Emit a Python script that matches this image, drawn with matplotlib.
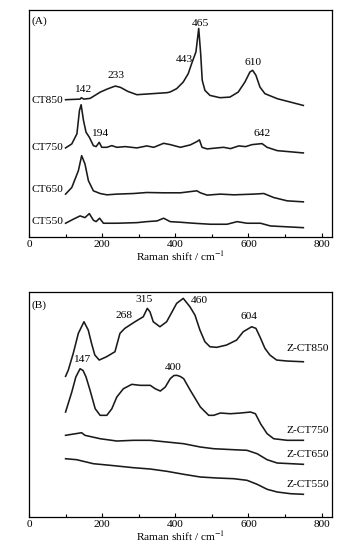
import matplotlib
matplotlib.use("Agg")
import matplotlib.pyplot as plt
from matplotlib.ticker import MultipleLocator

plt.rcParams["font.family"] = ["Liberation Serif", "DejaVu Serif"]
plt.rcParams["mathtext.fontset"] = "stix"

# panel A: Raman spectra (arbitrary, stacked intensity)
ct850_x = [100, 140, 143, 150, 167, 195, 215, 236, 250, 270, 295, 377, 385.3, 403.7, 421.7,
           435.4, 444.7, 456.4, 464, 469.3, 473.6, 481, 494.7, 522, 549.3, 572, 590.3, 604,
           611.4, 620.4, 631.4, 645, 679, 750]
ct850_y = [136.7, 137.3, 138.7, 137.3, 138, 144.3, 147.5, 150.3, 149, 145, 141.7, 143.7,
           144.3, 147.7, 154.3, 162.7, 172.7, 184.3, 207.7, 182.7, 156, 146, 141, 138.7,
           139.3, 144.3, 154.3, 164.3, 166, 161, 149.3, 142.7, 137.7, 131]

ct750_x = [100, 117, 131, 138, 142.5, 149, 156, 165, 176, 183.5, 192, 199, 213, 226.5, 240,
           263, 295, 322, 341, 368, 386, 414, 441, 459, 466, 473, 487, 514, 532, 551, 573.5,
           592, 610, 637, 651, 678.5, 750]
ct750_y = [88.7, 92.7, 102.7, 126, 131.7, 116, 104.3, 99.3, 91, 90, 94.3, 89.3, 89.3, 91,
           89.3, 90, 88.7, 90.7, 89.3, 93.3, 92, 89.3, 91.7, 95, 96.7, 89.3, 87.7, 88.7,
           89.3, 88, 90.7, 90, 92, 93, 89.3, 86, 83.7]

ct650_x = [100, 117, 135, 144, 153, 162.5, 176, 194.5, 213, 240, 285.8, 322, 368, 414, 459,
           468.5, 487, 523, 560, 614.6, 642, 669, 706, 750]
ct650_y = [42.7, 49.3, 66, 81, 72.7, 56, 46, 43.3, 42, 42.7, 43.3, 44.3, 44, 44, 46, 44,
           41.7, 42.7, 42, 42.7, 43.3, 39.3, 36, 35]

ct550_x = [100, 121, 139.7, 153, 165, 176, 183.5, 193, 203.6, 240, 295, 322, 350, 368, 386,
           413.7, 450, 496, 541.5, 569, 596, 633, 660, 750]
ct550_y = [13.7, 17.7, 21, 19.3, 23.3, 16.7, 15.3, 18.7, 13.7, 13.7, 14.3, 15.3, 16, 18.7,
           15.3, 14.7, 13.7, 12.7, 12.7, 15.3, 13.7, 13.7, 11, 9.3]

# panel B
zct850_x = [100, 107.5, 121, 134.9, 150.3, 162, 171, 180, 192, 212, 235, 248.7, 262, 289.7,
            312.4, 323.4, 330.7, 339.7, 358, 376.3, 403.7, 421.7, 440, 453.7, 467.3, 481,
            494.7, 513, 540, 567.6, 585.7, 608.6, 620.4, 631.3, 645, 658.6, 677, 706, 750]
zct850_y = [140.7, 147, 163.7, 183.7, 195.3, 187, 173.7, 162, 157, 160.3, 165.3, 183.7,
            188.7, 195.3, 200.3, 208.7, 205.3, 195.3, 190.3, 195.3, 213.7, 218.7, 210.3,
            202, 187, 175.3, 170.3, 169.7, 172, 177, 185.3, 190.3, 188.7, 180.3, 168.7, 162,
            157, 156, 155.3]

zct750_x = [100, 117, 128, 139.7, 148, 156, 167, 181, 194.5, 212.8, 226.5, 240, 258, 281,
            304, 331.5, 345, 359, 372.6, 386, 396, 404.5, 414, 423, 441, 468.5, 491.3, 505,
            523, 550.7, 578, 605.5, 619, 633, 651, 669, 706, 750]
zct750_y = [105, 125, 140, 148.3, 146.5, 140, 126.7, 108.3, 101.7, 101.7, 108.3, 120, 128.3,
            132.7, 131.7, 131.7, 128.3, 126, 130, 138.3, 141.5, 141.7, 140.5, 138.3, 126.7,
            110, 101.7, 101.7, 104, 103.3, 104, 105, 103.3, 93.3, 83.3, 78.3, 76.7, 76.7]

zct650_x = [100, 117, 144, 153, 194.5, 240, 285.8, 331.5, 377, 423, 468.5, 505, 560, 596,
            623.7, 651, 678.5, 750]
zct650_y = [81.7, 82.7, 84.3, 81.7, 78.3, 76, 76.7, 76.7, 75, 73.3, 70, 68.3, 67.3, 66.7,
            63.3, 57.3, 54, 52.7]

zct550_x = [100, 130.6, 176, 222, 285.8, 331.5, 377, 423, 468.5, 514, 560, 596, 623.7, 651,
            678.5, 715, 750]
zct550_y = [58.3, 57.3, 53.3, 51.7, 49.3, 48, 45.7, 42.7, 40, 39, 38.3, 36.7, 32.7, 27.7,
            25, 23.3, 22.7]

fig = plt.figure(figsize=(3.61, 5.54), dpi=100)
ax_a = fig.add_axes([0.0803, 0.5722, 0.839, 0.4097])
ax_b = fig.add_axes([0.0803, 0.0668, 0.839, 0.406])

line_kw = dict(color="#1a1a1a", lw=1.15, solid_joinstyle="round")
fs = 8.2

for ax in (ax_a, ax_b):
    ax.set_xlim(0, 828)
    ax.xaxis.set_major_locator(MultipleLocator(200))
    ax.xaxis.set_minor_locator(MultipleLocator(100))
    ax.tick_params(axis="x", which="major", direction="in", length=3, width=0.8,
                   labelsize=fs, pad=2)
    ax.tick_params(axis="x", which="minor", direction="in", length=2, width=0.8)
    ax.set_yticks([])
    for s in ax.spines.values():
        s.set_linewidth(0.9)
    ax.set_xlabel("Raman shift / cm$^{-1}$", fontsize=fs, labelpad=0)

# panel A
ax_a.set_ylim(0, 226)
ax_a.plot(ct850_x, ct850_y, **line_kw)
ax_a.plot(ct750_x, ct750_y, **line_kw)
ax_a.plot(ct650_x, ct650_y, **line_kw)
ax_a.plot(ct550_x, ct550_y, **line_kw)
ax_a.text(5.5, 215, "(A)", fontsize=fs, ha="left", va="center")
for name, yy in [("CT850", 136), ("CT750", 89.3), ("CT650", 47.7), ("CT550", 15.3)]:
    ax_a.text(94, yy, name, fontsize=fs, ha="right", va="center")
for lab, xx, yy in [("142", 147, 146.7), ("233", 237, 161), ("443", 424, 176.7),
                    ("465", 469, 212.7), ("610", 613, 173.3), ("194", 192, 103.3),
                    ("642", 637, 103.3)]:
    ax_a.text(xx, yy, lab, fontsize=fs, ha="center", va="center")

# panel B
ax_b.set_ylim(0, 225)
ax_b.plot(zct850_x, zct850_y, **line_kw)
ax_b.plot(zct750_x, zct750_y, **line_kw)
ax_b.plot(zct650_x, zct650_y, **line_kw)
ax_b.plot(zct550_x, zct550_y, **line_kw)
ax_b.text(5.5, 211.7, "(B)", fontsize=fs, ha="left", va="center")
for name, yy in [("Z-CT850", 168.3), ("Z-CT750", 86.7), ("Z-CT650", 62.7), ("Z-CT550", 32.7)]:
    ax_b.text(704, yy, name, fontsize=fs, ha="left", va="center")
for lab, xx, yy in [("315", 315, 217.3), ("460", 465, 216.7), ("268", 260, 201.7),
                    ("604", 602, 200.7), ("147", 145, 157.3), ("400", 395, 150)]:
    ax_b.text(xx, yy, lab, fontsize=fs, ha="center", va="center")

fig.savefig("out.png", dpi=100)
